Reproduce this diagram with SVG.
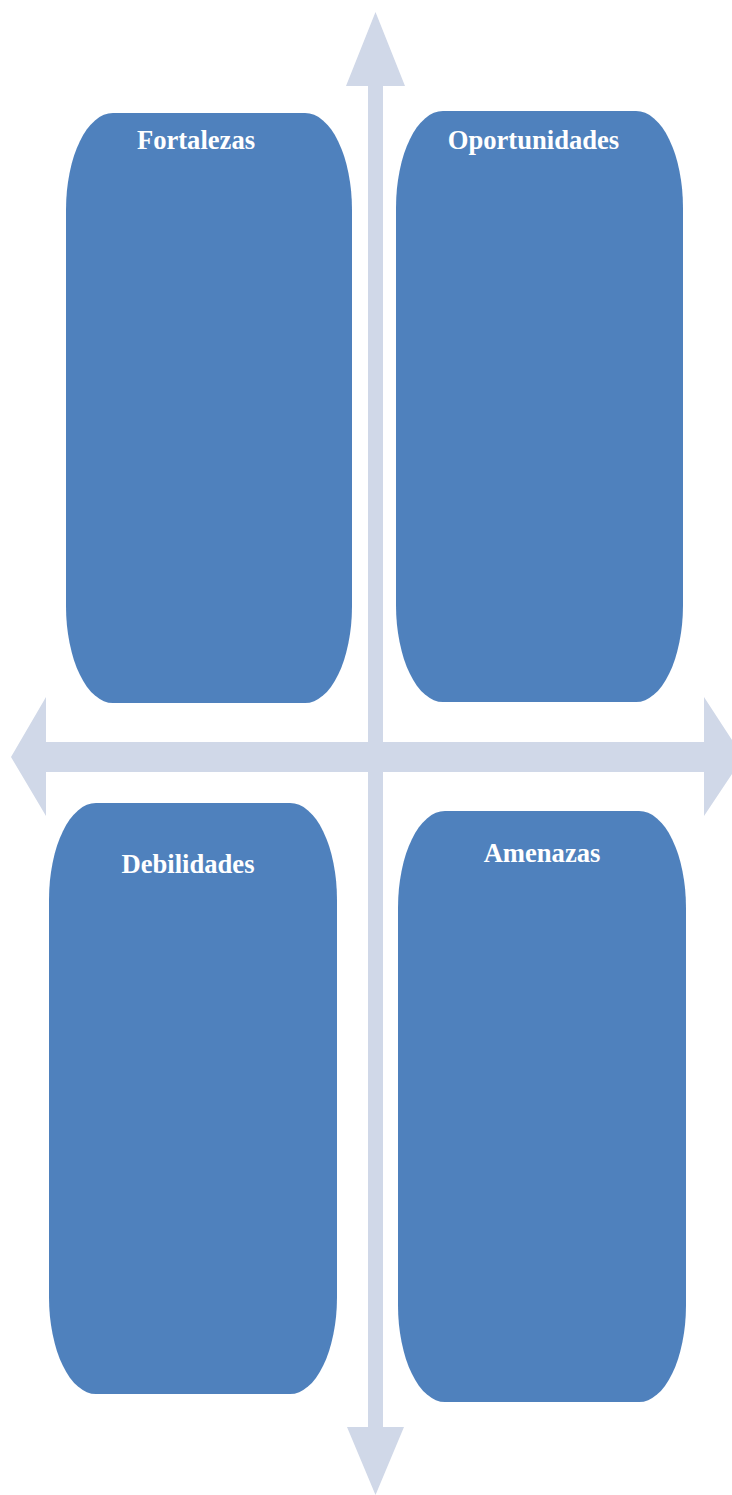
<svg xmlns="http://www.w3.org/2000/svg" width="732" height="1495" viewBox="0 0 732 1495">
<style>
.box{fill:#4F81BD}
.arrow{fill:#D0D8E8}
.lbl{font-family:"Liberation Serif","Times New Roman",serif;font-weight:bold;font-size:26.6px;fill:#FFFFFF;text-anchor:middle}
</style>
<rect width="732" height="1495" fill="#FFFFFF"/>
<g id="connectors">
<polygon class="arrow" points="375.5,12 405,86 383,86 383,1427 404,1427 375.5,1495 347,1427 368,1427 368,86 346,86"/>
<polygon class="arrow" points="11,757 46,697 46,742 704,742 704,697 732,740 732,774 704,816 704,772 46,772 46,816"/>
</g>
<g id="fortalezas">
<rect class="box" x="66" y="113" width="286" height="590" rx="47" ry="97"/>
<text class="lbl" x="196" y="149">Fortalezas</text>
</g>
<g id="oportunidades">
<rect class="box" x="396" y="111" width="287" height="591" rx="47" ry="97"/>
<text class="lbl" x="533.5" y="149">Oportunidades</text>
</g>
<g id="debilidades">
<rect class="box" x="49" y="803" width="288" height="591" rx="47" ry="97"/>
<text class="lbl" x="188" y="873">Debilidades</text>
</g>
<g id="amenazas">
<rect class="box" x="398" y="811" width="288" height="591" rx="47" ry="97"/>
<text class="lbl" x="542" y="862">Amenazas</text>
</g>
</svg>
